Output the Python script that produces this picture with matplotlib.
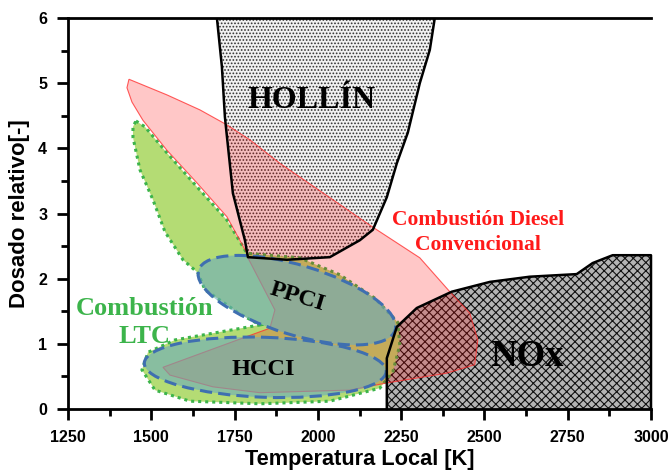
import numpy as np
import matplotlib.pyplot as plt
from matplotlib.patches import Polygon, Circle
from matplotlib.transforms import Affine2D

# Datos: temperatura [K] y dosado relativo [-]
hollin_T = [1697, 1712, 1721, 1724, 1745, 1781, 1790, 1907, 2036, 2126, 2165, 2207, 2237, 2270, 2306, 2336, 2351]
hollin_F = [6.0, 5.25, 4.48, 4.33, 3.31, 2.59, 2.33, 2.29, 2.33, 2.59, 2.75, 3.25, 3.77, 4.24, 5.00, 5.51, 6.0]

nox_T = [2207, 2207, 2237, 2297, 2402, 2516, 2636, 2777, 2825, 2885, 3000, 3000]
nox_F = [0.0, 0.78, 1.26, 1.55, 1.80, 1.95, 2.03, 2.07, 2.24, 2.36, 2.36, 0.0]

diesel_T = [1433, 1427, 1442, 1475, 1547, 1637, 1727, 1787, 1790, 1871, 1856, 1775, 1535, 1556, 1685,
            1826, 2096, 2207, 2387, 2471, 2480, 2456, 2396, 2306, 2165, 1886, 1796, 1727, 1646, 1547]
diesel_F = [5.06, 4.93, 4.71, 4.43, 3.97, 3.47, 2.95, 2.39, 2.32, 1.52, 1.24, 1.09, 0.64, 0.52, 0.34,
            0.25, 0.29, 0.40, 0.55, 0.68, 1.06, 1.47, 1.80, 2.32, 2.79, 3.77, 4.13, 4.36, 4.59, 4.82]

ltc_T = [1454, 1481, 1547, 1637, 1727, 1787, 1946, 2066, 2171, 2240, 2246, 2225, 2186, 2036, 1826,
         1616, 1511, 1472, 1490, 1571, 1826, 1766, 1661, 1640, 1595, 1541, 1505, 1466, 1445, 1445]
ltc_F = [4.42, 4.33, 3.93, 3.41, 2.90, 2.39, 2.32, 2.06, 1.70, 1.33, 0.98, 0.57, 0.32, 0.12, 0.08,
         0.12, 0.29, 0.60, 0.87, 1.06, 1.29, 1.46, 1.83, 2.09, 2.29, 2.72, 3.21, 3.67, 4.17, 4.33]

# Elipses: centro (T, F) y semiejes conjugados (dT, dF)
ppci_centro = (1937, 1.67)
ppci_eje1 = (295, -0.46)
ppci_eje2 = (-31, -0.51)
hcci_centro = (1842, 0.64)
hcci_eje1 = (363, -0.065)
hcci_eje2 = (-3, -0.46)

x_ticks = [1250, 1500, 1750, 2000, 2250, 2500, 2750, 3000]
y_ticks = [0, 1, 2, 3, 4, 5, 6]

plt.rcParams['hatch.linewidth'] = 0.8

fig = plt.figure(figsize=(6.7, 4.7), dpi=100)
ax = fig.add_axes([68 / 670, 61 / 470, 583 / 670, 391 / 470])

# Zonas de emisiones (tramadas)
ax.add_patch(Polygon(np.column_stack([hollin_T, hollin_F]), closed=True, facecolor='#f2f2f2',
                     edgecolor='#333333', hatch='.....', linewidth=0, zorder=1))
ax.add_patch(Polygon(np.column_stack([nox_T, nox_F]), closed=True, facecolor='#b4b4b4',
                     edgecolor='#111111', hatch='xxxx', linewidth=0, zorder=1))

# Combustion LTC
ax.add_patch(Polygon(np.column_stack([ltc_T, ltc_F]), closed=True, facecolor='#b4dc74',
                     edgecolor='#3cb44b', linewidth=2.2, linestyle=(0, (1, 1.3)), zorder=2))

# Combustion diesel convencional
ax.add_patch(Polygon(np.column_stack([diesel_T, diesel_F]), closed=True, facecolor=(1, 0, 0, 0.22),
                     edgecolor=(1, 0.2, 0.2, 0.8), linewidth=0.8, zorder=3))

# Elipses PPCI y HCCI
for centro, e1, e2 in [(ppci_centro, ppci_eje1, ppci_eje2), (hcci_centro, hcci_eje1, hcci_eje2)]:
    tr = Affine2D(np.array([[e1[0], e2[0], centro[0]],
                            [e1[1], e2[1], centro[1]],
                            [0, 0, 1]])) + ax.transData
    ax.add_patch(Circle((0, 0), 1, transform=tr, facecolor=(0.42, 0.67, 0.75, 0.6),
                        edgecolor='none', zorder=4))
    ax.add_patch(Circle((0, 0), 1, transform=tr, facecolor='none', edgecolor='#3f6fb0',
                        linewidth=2.2, linestyle=(0, (4, 2)), zorder=5))

# Contornos de hollin y NOx
ax.plot(hollin_T, hollin_F, color='black', linewidth=1.8, zorder=6)
ax.plot(nox_T, nox_F, color='black', linewidth=1.8, zorder=6, clip_on=False)

# Etiquetas
serif = 'Liberation Serif'
ax.text(1982, 4.74, 'HOLLÍN', fontsize=23, fontweight='bold', family=serif,
        ha='center', va='center', zorder=7)
ax.text(2627, 0.80, 'NOx', fontsize=26.5, fontweight='bold', family=serif,
        ha='center', va='center', zorder=7)
ax.text(1937, 1.72, 'PPCI', fontsize=17.5, fontweight='bold', family=serif,
        ha='center', va='center', rotation=-17, zorder=7)
ax.text(1835, 0.60, 'HCCI', fontsize=17.5, fontweight='bold', family=serif,
        ha='center', va='center', zorder=7)
ax.text(1481, 1.33, 'Combustión\nLTC', fontsize=19, fontweight='bold', family=serif,
        color='#3cb44b', ha='center', va='center', linespacing=1.25, zorder=7)
ax.text(2480, 2.71, 'Combustión Diesel\nConvencional', fontsize=15.5, fontweight='bold', family=serif,
        color='#ff1a1a', ha='center', va='center', linespacing=1.3, zorder=7)

# Ejes
ax.set_xlim(1250, 3000)
ax.set_ylim(0, 6)
ax.set_xticks(x_ticks)
ax.set_xticks(np.arange(1375, 3000, 250), minor=True)
ax.set_yticks(y_ticks)
ax.set_yticks(np.arange(0.5, 6, 1), minor=True)
ax.tick_params(which='major', direction='out', length=8, width=2, labelsize=11.5, pad=7)
ax.tick_params(which='minor', direction='out', length=5, width=2)
for lab in ax.get_xticklabels() + ax.get_yticklabels():
    lab.set_fontweight('bold')
    lab.set_family('Liberation Sans')

ax.set_xlabel('Temperatura Local [K]', fontsize=15.7, fontweight='bold', family='Liberation Sans', labelpad=3)
ax.set_ylabel('Dosado relativo[-]', fontsize=16, fontweight='bold', family='Liberation Sans', labelpad=6)

ax.spines['right'].set_visible(False)
for s in ['left', 'bottom', 'top']:
    ax.spines[s].set_linewidth(2)
    ax.spines[s].set_zorder(8)

fig.savefig('out.png', dpi=100)
